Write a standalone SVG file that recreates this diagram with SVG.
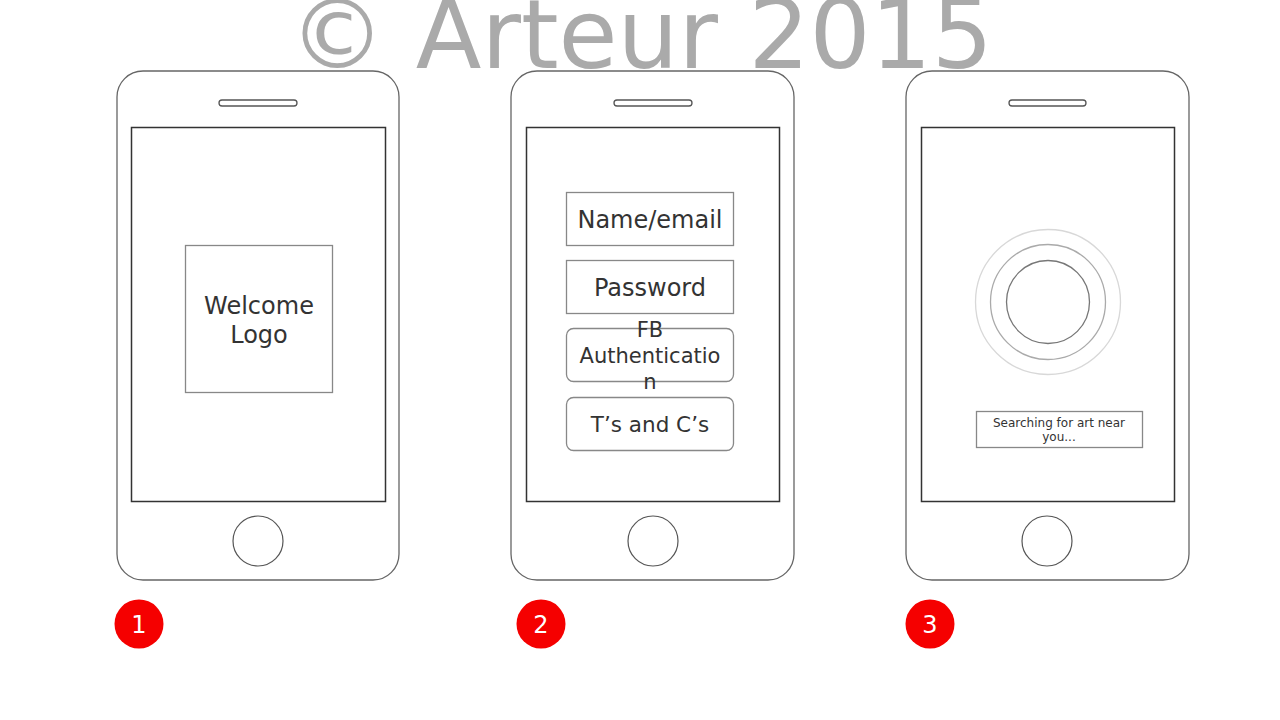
<svg xmlns="http://www.w3.org/2000/svg" width="1280" height="720" viewBox="0 0 1280 720">
<style>
.body{fill:#fff;stroke:#666;stroke-width:1.3}
.screen{fill:#fff;stroke:#333;stroke-width:1.5}
.speaker{fill:#fff;stroke:#555;stroke-width:1.3}
.home{fill:#fff;stroke:#555;stroke-width:1.2}
.box{fill:#fff;stroke:#888;stroke-width:1.3}
.t{font-family:"DejaVu Sans",sans-serif;fill:#333;text-anchor:middle}
.badge{fill:#f50000}
.bt{font-family:"DejaVu Sans",sans-serif;fill:#fff;font-size:24px;text-anchor:middle}
</style>
<rect width="1280" height="720" fill="#fff"/>
<text x="641" y="68" font-family="DejaVu Sans, sans-serif" font-size="96" fill="#aaaaaa" text-anchor="middle">© Arteur 2015</text>
<g id="phone1">
<rect class="body" x="117" y="71" width="282" height="509" rx="26"/>
<rect class="screen" x="131.5" y="127.5" width="254" height="374"/>
<rect class="speaker" x="219" y="100" width="78" height="6" rx="3"/>
<circle class="home" cx="258" cy="541" r="25"/>
</g>
<g id="welcome">
<rect class="box" x="185.5" y="245.5" width="147" height="147"/>
<text class="t" x="259" y="314" font-size="24">Welcome</text>
<text class="t" x="259" y="343" font-size="24">Logo</text>
</g>
<g id="phone2">
<rect class="body" x="511" y="71" width="283" height="509" rx="26"/>
<rect class="screen" x="526.5" y="127.5" width="253" height="374"/>
<rect class="speaker" x="614" y="100" width="78" height="6" rx="3"/>
<circle class="home" cx="653" cy="541" r="25"/>
</g>
<g id="name">
<rect class="box" x="566.5" y="192.5" width="167" height="53"/>
<text class="t" x="650" y="228" font-size="24">Name/email</text>
</g>
<g id="password">
<rect class="box" x="566.5" y="260.5" width="167" height="53"/>
<text class="t" x="650" y="296" font-size="24">Password</text>
</g>
<g id="fb">
<rect class="box" x="566.5" y="328.5" width="167" height="53" rx="7"/>
<text class="t" x="650" y="337" font-size="21">FB</text>
<text class="t" x="650" y="363" font-size="21">Authenticatio</text>
<text class="t" x="650" y="389" font-size="21">n</text>
</g>
<g id="tc">
<rect class="box" x="566.5" y="397.5" width="167" height="53" rx="7"/>
<text class="t" x="650" y="432" font-size="21.5">T’s and C’s</text>
</g>
<g id="phone3">
<rect class="body" x="906" y="71" width="283" height="509" rx="26"/>
<rect class="screen" x="921.5" y="127.5" width="253" height="374"/>
<rect class="speaker" x="1009" y="100" width="77" height="6" rx="3"/>
<circle class="home" cx="1047" cy="541" r="25"/>
</g>
<g id="radar">
<circle cx="1048" cy="302" r="72.5" fill="none" stroke="#d8d8d8" stroke-width="1.3"/>
<circle cx="1048" cy="302" r="57.5" fill="none" stroke="#aaa" stroke-width="1.3"/>
<circle cx="1048" cy="302" r="41.5" fill="none" stroke="#777" stroke-width="1.3"/>
</g>
<g id="searching">
<rect class="box" x="976.5" y="411.5" width="166" height="36"/>
<text class="t" x="1059" y="427" font-size="12">Searching for art near</text>
<text class="t" x="1059" y="441" font-size="12">you...</text>
</g>
<g id="badge1"><circle class="badge" cx="139" cy="624" r="24.5"/><text class="bt" x="139" y="633">1</text></g>
<g id="badge2"><circle class="badge" cx="541" cy="624" r="24.5"/><text class="bt" x="541" y="633">2</text></g>
<g id="badge3"><circle class="badge" cx="930" cy="624" r="24.5"/><text class="bt" x="930" y="633">3</text></g>
<g id="connectors"></g>
</svg>
